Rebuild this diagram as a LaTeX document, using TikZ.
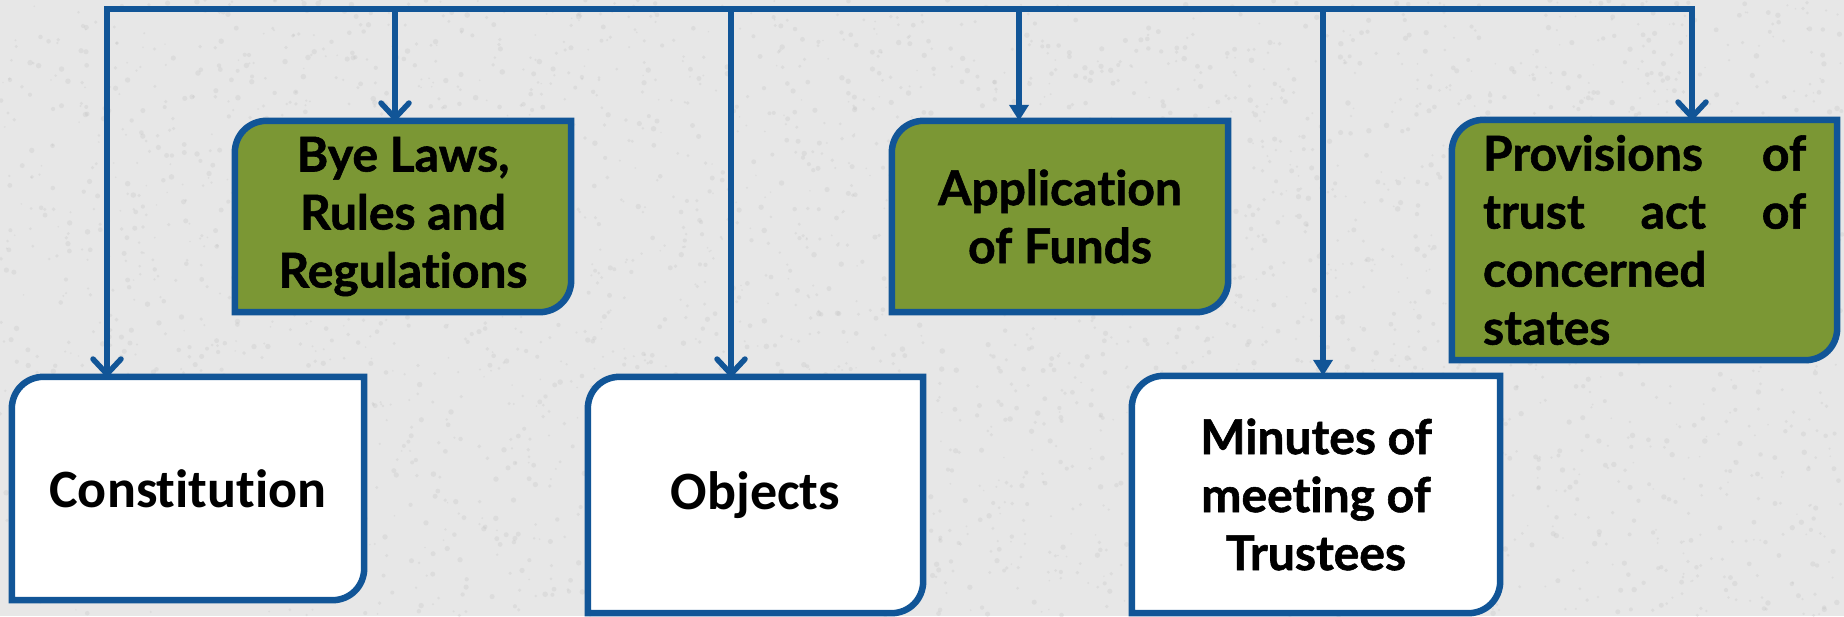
\documentclass[tikz,border=0pt]{standalone}
\usepackage{fontspec}
\setmainfont{Lato}[Ligatures=NoCommon, BoldFeatures={FakeBold=1.2}]
\newfontfamily\calfont{Carlito}[Ligatures=NoCommon]
\usetikzlibrary{arrows.meta}

\definecolor{paper}{RGB}{231,231,231}
\definecolor{paperspeck}{RGB}{196,196,196}
\definecolor{linkblue}{RGB}{17,85,151}
\definecolor{olivecard}{RGB}{123,151,52}

\pgfdeclarelayer{paperlayer}
\pgfdeclarelayer{cardlayer}
\pgfsetlayers{paperlayer,cardlayer,main}

\tikzset{
  bus/.style={draw=linkblue, line width=5.5pt},
  barb/.tip={Straight Barb[length=15pt,width=28pt,round]},
  openhead/.style={-barb},
  solidhead/.style={-{Triangle[length=16pt,width=19pt]}},
  card/.style={inner sep=0pt, align=center},
  gill/.style={font=\bfseries\fontsize{48}{58}\selectfont},
  cali/.style={font=\calfont\bfseries\fontsize{54}{64}\selectfont},
}

% card outline: top-left and bottom-right corners rounded
\newcommand\cardshape[2]{%
  \filldraw[draw=linkblue, line width=6.5pt, fill=#2, line join=miter]
    ([yshift=-32pt]#1.north west)
    .. controls ([yshift=-14pt]#1.north west) and ([xshift=14pt]#1.north west) ..
    ([xshift=32pt]#1.north west)
    -- (#1.north east)
    -- ([yshift=32pt]#1.south east)
    .. controls ([yshift=14pt]#1.south east) and ([xshift=-14pt]#1.south east) ..
    ([xshift=-32pt]#1.south east)
    -- (#1.south west) -- cycle;}

\begin{document}
\begin{tikzpicture}[x=1pt, y=-1pt]
  \useasboundingbox (0,0) rectangle (1844,616);
  \begin{pgfonlayer}{paperlayer}
    \fill[paper] (0,0) rectangle (1844,616);
    % fine grain of the paper
    \begin{scope}
      \clip (0,0) rectangle (1844,616);
      \pgfmathsetseed{4242}
      \foreach \k in {1,...,4000}{
        \pgfmathsetmacro\px{rnd*1844}
        \pgfmathsetmacro\py{rnd*616}
        \pgfmathsetmacro\pr{0.8+rnd*2}
        \fill[paperspeck, opacity=0.3] (\px,\py) circle[radius=\pr pt];
      }
    \end{scope}
  \end{pgfonlayer}

  % cards
  \node[card, cali, minimum width=352pt, minimum height=223pt] (con) at (188,488.5) {Constitution};
  \node[card, gill, minimum width=336pt, minimum height=191pt] (bye) at (403,216.5) {Bye Laws,\\Rules and\\Regulations};
  \node[card, cali, minimum width=335pt, minimum height=236pt] (obj) at (755.5,495) {Objects};
  \node[card, gill, minimum width=336pt, minimum height=191pt] (app) at (1060,216.5) {Application\\of Funds};
  \node[card, gill, minimum width=368pt, minimum height=237pt] (min) at (1316,494.5) {Minutes of\\meeting of\\Trustees};
  \node[card, gill, align=left, minimum width=385pt, minimum height=240pt] (pro) at (1644.5,240)
    {\makebox[323pt][s]{Provisions of}\\\makebox[323pt][s]{trust act of}\\concerned\\states};

  \begin{pgfonlayer}{cardlayer}
    \cardshape{con}{white}
    \cardshape{bye}{olivecard}
    \cardshape{obj}{white}
    \cardshape{app}{olivecard}
    \cardshape{min}{white}
    \cardshape{pro}{olivecard}
  \end{pgfonlayer}

  % distribution bus along the top
  \coordinate (hubL) at (107,9);
  \coordinate (hubR) at (1692,9);
  \coordinate (tapBye) at (395,9);
  \coordinate (tapObj) at (731,9);
  \coordinate (tapApp) at (1019,9);
  \coordinate (tapMin) at (1323,9);

  \draw[bus, barb-barb]
    (hubL |- con.north) -- (hubL) -- (hubR) -- (hubR |- pro.north);
  \draw[bus, openhead] (tapBye) -- (tapBye |- bye.north);
  \draw[bus, openhead] (tapObj) -- (tapObj |- obj.north);
  \draw[bus, solidhead] (tapApp) -- (tapApp |- app.north);
  \draw[bus, solidhead] (tapMin) -- (tapMin |- min.north);
\end{tikzpicture}
\end{document}
